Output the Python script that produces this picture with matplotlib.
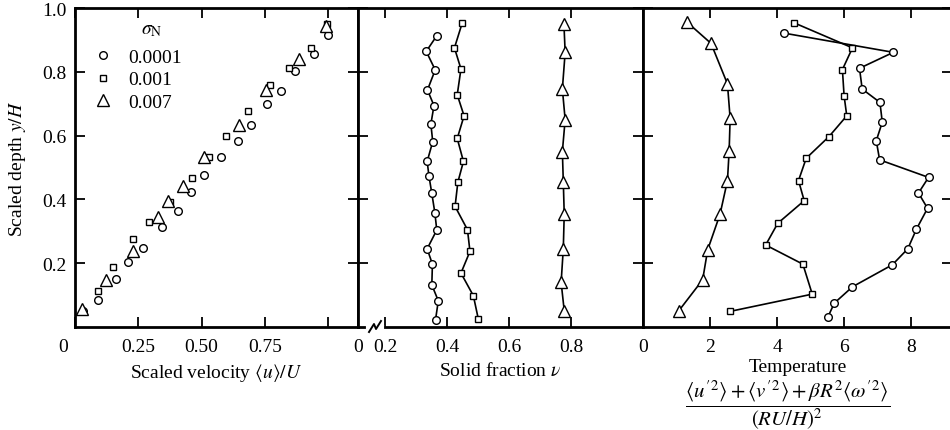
import matplotlib
matplotlib.use('Agg')
import matplotlib.pyplot as plt
import matplotlib.transforms as mtrans
import numpy as np

plt.rcParams['font.family'] = ['Liberation Serif', 'DejaVu Serif']
plt.rcParams['mathtext.fontset'] = 'stix'
plt.rcParams['font.size'] = 14

# panel 1: scaled velocity vs depth, three sigma_N values
u_c = [1.0, 0.945, 0.869, 0.812, 0.757, 0.693, 0.645, 0.576, 0.509, 0.458, 0.405,
       0.342, 0.270, 0.211, 0.162, 0.092, 0.032]
y_uc = [0.915, 0.856, 0.803, 0.741, 0.699, 0.634, 0.584, 0.534, 0.476, 0.422, 0.365,
        0.312, 0.248, 0.203, 0.150, 0.086, 0.050]
u_s = [0.994, 0.93, 0.844, 0.770, 0.682, 0.595, 0.529, 0.461, 0.375, 0.293, 0.230,
       0.149, 0.092]
y_us = [0.95, 0.874, 0.811, 0.759, 0.676, 0.60, 0.532, 0.467, 0.393, 0.328, 0.276,
        0.187, 0.114]
u_t = [0.991, 0.884, 0.753, 0.647, 0.511, 0.428, 0.368, 0.326, 0.228, 0.121, 0.029]
y_ut = [0.944, 0.840, 0.744, 0.633, 0.532, 0.443, 0.396, 0.344, 0.237, 0.147, 0.056]
sigma_labels = ['0.0001', '0.001', '0.007']

# panel 2: solid fraction
nu_c = [0.367, 0.333, 0.362, 0.337, 0.358, 0.348, 0.354, 0.336, 0.342, 0.351, 0.361,
        0.367, 0.336, 0.353, 0.351, 0.372, 0.363]
y_nc = [0.913, 0.864, 0.806, 0.743, 0.694, 0.636, 0.581, 0.519, 0.472, 0.419, 0.357,
        0.304, 0.245, 0.197, 0.132, 0.082, 0.023]
nu_s = [0.449, 0.424, 0.445, 0.433, 0.455, 0.433, 0.453, 0.435, 0.426, 0.466, 0.474,
        0.445, 0.485, 0.501]
y_ns = [0.953, 0.875, 0.809, 0.728, 0.662, 0.591, 0.519, 0.454, 0.378, 0.305, 0.237,
        0.169, 0.098, 0.025]
nu_t = [0.777, 0.781, 0.772, 0.781, 0.772, 0.775, 0.778, 0.775, 0.768, 0.778]
y_nt = [0.950, 0.861, 0.746, 0.650, 0.550, 0.456, 0.354, 0.245, 0.140, 0.051]

# panel 3: temperature
T_c = [4.22, 7.47, 6.46, 6.54, 7.07, 7.14, 6.96, 7.06, 8.52, 8.22, 8.49, 8.16, 7.90,
       7.44, 6.25, 5.71, 5.51]
y_Tc = [0.921, 0.861, 0.811, 0.746, 0.704, 0.642, 0.584, 0.524, 0.469, 0.420, 0.372,
        0.307, 0.245, 0.195, 0.126, 0.075, 0.030]
T_s = [4.52, 6.25, 5.95, 6.0, 6.08, 5.55, 4.87, 4.64, 4.81, 4.02, 3.66, 4.77, 5.05, 2.60]
y_Ts = [0.953, 0.875, 0.807, 0.725, 0.662, 0.597, 0.529, 0.459, 0.396, 0.325, 0.257,
        0.197, 0.103, 0.049]
T_t = [1.30, 2.03, 2.52, 2.60, 2.57, 2.52, 2.30, 1.93, 1.78, 1.07]
y_Tt = [0.957, 0.889, 0.762, 0.654, 0.551, 0.459, 0.354, 0.242, 0.148, 0.051]

W, H = 950, 431
fig = plt.figure(figsize=(9.5, 4.31), dpi=100)

def box(l, r, t=9, b=328):
    return [l / W, 1 - b / H, (r - l) / W, (b - t) / H]

ax1 = fig.add_axes(box(75, 358))
ax2 = fig.add_axes(box(358, 643))
ax3 = fig.add_axes(box(643, 952))

mk = dict(mfc='white', mec='black', mew=1.0, color='black')
circ = dict(marker='o', ms=5.5, **mk)
sq = dict(marker='s', ms=5, **mk)
tri = dict(marker='^', ms=8.5, **mk)

for ax in (ax1, ax2, ax3):
    ax.set_ylim(0, 1.0)
    for s in ax.spines.values():
        s.set_linewidth(2)
    ax.tick_params(direction='in', length=7, width=1.3, top=True, right=True,
                   labelsize=14, pad=8)
    ax.set_yticks([0.2, 0.4, 0.6, 0.8, 1.0])
    ax.set_yticklabels([])

# panel 1
ax1.plot(u_c, y_uc, ls='none', label=sigma_labels[0], **circ)
ax1.plot(u_s, y_us, ls='none', label=sigma_labels[1], **sq)
ax1.plot(u_t, y_ut, ls='none', label=sigma_labels[2], **tri)
ax1.set_xlim(0, 1.117)
ax1.set_xticks([0, 0.25, 0.5, 0.75, 1.0])
ax1.set_xticklabels(['0', '0.25', '0.50', '0.75', ''])
ax1.set_yticklabels(['0.2', '0.4', '0.6', '0.8', '1.0'])
ax1.tick_params(axis='y', pad=6)
off = mtrans.ScaledTranslation(-12 / 100, 0, fig.dpi_scale_trans)
lbl0 = ax1.get_xticklabels()[0]
lbl0.set_transform(lbl0.get_transform() + off)
ax1.set_xlabel(r'Scaled velocity $\langle u\rangle/U$', fontsize=14, labelpad=4)
ax1.set_ylabel(r'Scaled depth $y/H$', fontsize=14, labelpad=10)
leg = ax1.legend(frameon=False, loc='upper left',
                 bbox_to_anchor=(0.015, 0.91), numpoints=1, handlelength=1.2,
                 handletextpad=0.7, labelspacing=0.25, borderaxespad=0.2,
                 fontsize=14)
ax1.text((152 - 75) / 283, (328 - 30) / 319, r'$\sigma_{\mathrm{N}}$',
         transform=ax1.transAxes, ha='center', va='center', fontsize=14)

# panel 2
ax2.plot(nu_c, y_nc, lw=1.2, **circ)
ax2.plot(nu_s, y_ns, lw=1.2, **sq)
ax2.plot(nu_t, y_nt, lw=1.2, **tri)
ax2.set_xlim(0.113, 1.032)
ax2.set_xticks([0.113, 0.2, 0.4, 0.6, 0.8])
ax2.set_xticklabels(['0', '0.2', '0.4', '0.6', '0.8'])
ax2.set_xlabel(r'Solid fraction $\nu$', fontsize=14, labelpad=4)
# axis break mark
ax2.plot([0.036, 0.084], [0, 0], color='white', lw=3, transform=ax2.transAxes,
         clip_on=False, zorder=5)
ax2.plot([0.0386, 0.0561, 0.0632, 0.0807], [-0.0157, 0.0094, -0.0063, 0.0188],
         color='black', lw=1.4, transform=ax2.transAxes, clip_on=False, zorder=6)

# panel 3
ax3.plot(T_c, y_Tc, lw=1.2, **circ)
ax3.plot(T_s, y_Ts, lw=1.2, **sq)
ax3.plot(T_t, y_Tt, lw=1.2, **tri)
ax3.set_xlim(0, 9.22)
ax3.set_xticks([0, 2, 4, 6, 8])
ax3.set_xticklabels(['0', '2', '4', '6', '8'])
ax3.set_xlabel('Temperature', fontsize=14, labelpad=2)
fig.text(788 / W, 1 - 405 / H,
         r"$\dfrac{\langle u'^2\rangle+\langle v'^2\rangle+\beta R^2\langle\omega'^2\rangle}{(RU/H)^2}$",
         ha='center', va='center', fontsize=15)

fig.savefig('out.png', dpi=100)
